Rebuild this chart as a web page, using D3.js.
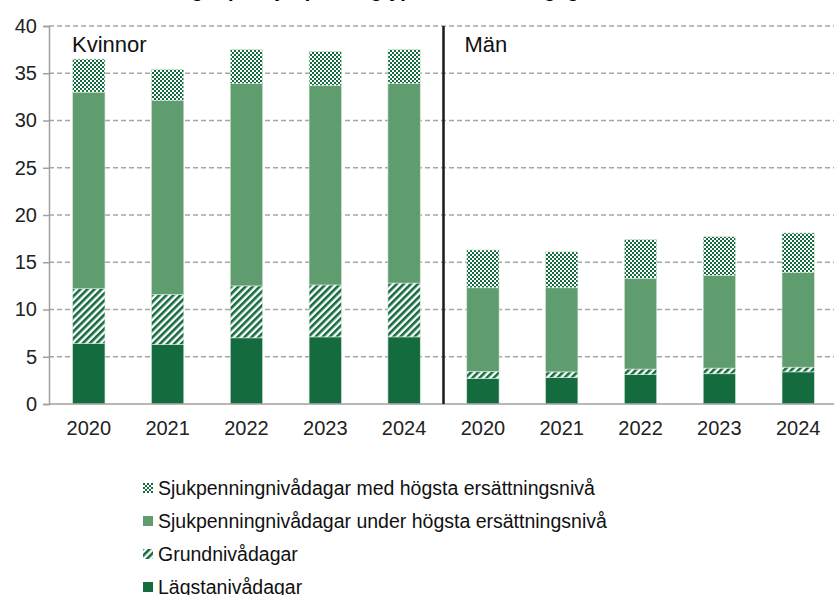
<!DOCTYPE html>
<html>
<head>
<meta charset="utf-8">
<script src="https://cdn.jsdelivr.net/npm/d3@7"></script>
<style>
  body { margin: 0; background: #fff; }
  svg { font-family: "Liberation Sans", Arial, sans-serif; }
</style>
</head>
<body>
<div id="chart"></div>
<script>
// chart data
const years = ["2020", "2021", "2022", "2023", "2024"];
const groups = ["Kvinnor", "Män"];
const seriesNames = [
  "Lägstanivådagar",
  "Grundnivådagar",
  "Sjukpenningnivådagar under högsta ersättningsnivå",
  "Sjukpenningnivådagar med högsta ersättningsnivå"
];
// values per category: Kvinnor 2020-2024, then Män 2020-2024
const lagsta = [6.4, 6.3, 7.0, 7.1, 7.1, 2.7, 2.8, 3.1, 3.2, 3.4];
const grund  = [5.8, 5.3, 5.5, 5.5, 5.7, 0.75, 0.6, 0.6, 0.6, 0.5];
const under  = [20.8, 20.5, 21.4, 21.1, 21.1, 8.85, 8.9, 9.6, 9.8, 10.0];
const hogsta = [3.5, 3.3, 3.6, 3.6, 3.6, 4.0, 3.8, 4.1, 4.1, 4.2];
const yTicks = [0, 5, 10, 15, 20, 25, 30, 35, 40];

const width = 834;
const height = 595;
const margin = {left: 49, right: -4, top: 26, bottom: 191};

const dark = "#136b3e";
const mid = "#5f9d6e";

const data = [];
groups.forEach((g, gi) => {
  years.forEach((yr, yi) => {
    const i = gi * years.length + yi;
    data.push({key: g + yr, year: yr, s0: lagsta[i], s1: grund[i], s2: under[i], s3: hogsta[i]});
  });
});

const svg = d3.select("#chart")
  .append("svg")
  .attr("width", width)
  .attr("height", height);

// patterns
const defs = svg.append("defs");
const checker = defs.append("pattern")
  .attr("id", "checker")
  .attr("patternUnits", "userSpaceOnUse")
  .attr("width", 4).attr("height", 4);
checker.append("rect").attr("width", 4).attr("height", 4).attr("fill", "#fff");
checker.append("rect").attr("width", 2).attr("height", 2).attr("fill", dark);
checker.append("rect").attr("x", 2).attr("y", 2).attr("width", 2).attr("height", 2).attr("fill", dark);

const stripes = defs.append("pattern")
  .attr("id", "stripes")
  .attr("patternUnits", "userSpaceOnUse")
  .attr("width", 5).attr("height", 5)
  .attr("patternTransform", "rotate(45)");
stripes.append("rect").attr("width", 5).attr("height", 5).attr("fill", "#fff");
stripes.append("rect").attr("width", 2.6).attr("height", 5).attr("fill", dark);

const fills = [dark, "url(#stripes)", mid, "url(#checker)"];

// title, almost all of it above the frame as in the source
svg.append("text")
  .attr("x", 417).attr("y", -3)
  .attr("text-anchor", "middle")
  .attr("font-size", 20).attr("font-weight", "bold")
  .text("Antal dagar per sjukpenningtyp och ersättningsgrad, 2020–2024");

const yScale = d3.scaleLinear()
  .domain([0, 40])
  .range([height - margin.bottom, margin.top]);

const xScale = d3.scaleBand()
  .domain(data.map(d => d.key))
  .range([margin.left, width - margin.right])
  .paddingInner(0.59)
  .paddingOuter(0.3);

// dashed grid lines
svg.append("g")
  .selectAll("line")
  .data(yTicks.filter(t => t > 0))
  .enter()
  .append("line")
    .attr("x1", margin.left)
    .attr("x2", width)
    .attr("y1", d => yScale(d))
    .attr("y2", d => yScale(d))
    .attr("stroke", "#a6a6a6")
    .attr("stroke-width", 1.3)
    .attr("stroke-dasharray", "5,3");

// stacked bars
const stack = d3.stack().keys(["s0", "s1", "s2", "s3"]);
const layers = stack(data);

svg.append("g")
  .selectAll("g")
  .data(layers)
  .enter()
  .append("g")
    .attr("fill", (d, i) => fills[i])
  .selectAll("rect")
  .data(d => d)
  .enter()
  .append("rect")
    .attr("x", d => xScale(d.data.key))
    .attr("y", d => yScale(d[1]))
    .attr("width", xScale.bandwidth())
    .attr("height", d => yScale(d[0]) - yScale(d[1]))
    .attr("stroke", "#d3e5d8")
    .attr("stroke-width", 0.6);

// y axis
const yAxis = svg.append("g")
  .attr("transform", `translate(${margin.left},0)`)
  .call(d3.axisLeft(yScale).tickValues(yTicks).tickSize(6).tickPadding(6));
yAxis.selectAll("text").attr("font-size", 20).attr("fill", "#222").attr("font-family", "Liberation Sans, Arial, sans-serif");
yAxis.selectAll("line, path").attr("stroke", "#a0a0a0").attr("stroke-width", 1.5);

// x axis
const xAxis = svg.append("g")
  .attr("transform", `translate(0,${height - margin.bottom})`)
  .call(d3.axisBottom(xScale).tickSize(0).tickFormat(k => k.slice(-4)));
xAxis.selectAll("text")
  .attr("y", 31).attr("dy", 0)
  .attr("font-size", 20).attr("fill", "#222").attr("font-family", "Liberation Sans, Arial, sans-serif");
xAxis.select("path").attr("d", `M${margin.left},0H${width}`).attr("stroke", "#a0a0a0").attr("stroke-width", 1.5);

// divider between groups
const last = data[years.length - 1].key;
const first = data[years.length].key;
const divX = (xScale(last) + xScale.bandwidth() + xScale(first)) / 2;
svg.append("line")
  .attr("x1", divX).attr("x2", divX)
  .attr("y1", yScale(40)).attr("y2", yScale(0))
  .attr("stroke", "#1a1a1a")
  .attr("stroke-width", 2.5);

// group labels
svg.selectAll(".grp")
  .data(groups)
  .enter()
  .append("text")
    .attr("class", "grp")
    .attr("x", (d, i) => i === 0 ? margin.left + 23 : divX + 21)
    .attr("y", 52)
    .attr("font-size", 22)
    .attr("fill", "#111")
    .text(d => d);

// legend, top row is the top of the stack
const legendOrder = [3, 2, 1, 0];
const legend = svg.append("g")
  .selectAll("g")
  .data(legendOrder)
  .enter()
  .append("g")
    .attr("transform", (d, i) => `translate(143,${495 + i * 33})`);
legend.append("rect")
  .attr("x", 0).attr("y", -12)
  .attr("width", 10).attr("height", 10)
  .attr("fill", d => fills[d]);
legend.append("text")
  .attr("x", 15).attr("y", 0)
  .attr("font-size", 19.5)
  .attr("fill", "#111")
  .text(d => seriesNames[d]);
</script>
</body>
</html>
